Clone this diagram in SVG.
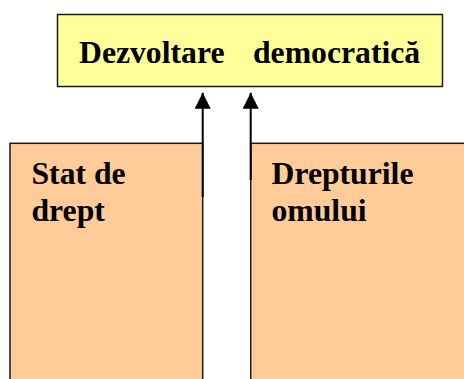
<svg xmlns="http://www.w3.org/2000/svg" width="464" height="379" viewBox="0 0 464 379">
<defs>
<style>
.box{stroke:#1a1a1a;stroke-width:1.5}
.lbl{font-family:"Liberation Serif","Times New Roman",serif;font-weight:bold;font-size:31.7px;fill:#000}
.conn{stroke:#000;stroke-width:2;fill:none}
</style>
<marker id="ah" viewBox="0 0 16 16" refX="16" refY="8" markerWidth="16" markerHeight="16" markerUnits="userSpaceOnUse" orient="auto">
<path d="M0,0 L16,8 L0,16 Z" fill="#000"/>
</marker>
</defs>
<rect width="464" height="379" fill="#fff"/>
<g id="node-dezvoltare">
<rect class="box" x="57.5" y="14.5" width="385" height="72" fill="#FFFF99"/>
<text class="lbl"><tspan x="79" y="63">Dezvoltare</tspan><tspan x="253" y="63">democratică</tspan></text>
</g>
<g id="node-stat">
<rect class="box" x="10" y="143.3" width="192.7" height="250" fill="#FFCC99"/>
<text class="lbl"><tspan x="31.5" y="183.5">Stat de</tspan><tspan x="31.5" y="220.5">drept</tspan></text>
</g>
<g id="node-drepturi">
<rect class="box" x="250.7" y="143.3" width="230" height="250" fill="#FFCC99"/>
<text class="lbl"><tspan x="271.5" y="183.5">Drepturile</tspan><tspan x="271.5" y="220.5">omului</tspan></text>
</g>
<g id="connectors">
<line class="conn" x1="202.7" y1="197" x2="202.7" y2="92.7" marker-end="url(#ah)"/>
<line class="conn" x1="250.7" y1="180" x2="250.7" y2="92.7" marker-end="url(#ah)"/>
</g>
</svg>
